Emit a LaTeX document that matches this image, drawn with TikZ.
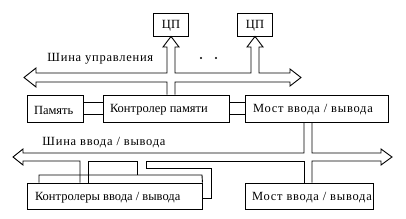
\documentclass[tikz,border=0pt]{standalone}
\usepackage{fontspec}
\setmainfont{Liberation Serif}
\newfontfamily\widefont[LetterSpace=6]{Liberation Serif}
\usetikzlibrary{calc}
\begin{document}
\begin{tikzpicture}[x=1pt,y=-1pt,line width=0.9pt,
  box/.style={draw,inner sep=0pt},
  lbl/.style={inner sep=0pt,anchor=west,font=\fontsize{12.5}{14}\selectfont},
  wlbl/.style={inner sep=0pt,anchor=west,font=\widefont\fontsize{12.5}{14}\selectfont},
  bus/.style={draw,line join=miter}]
\useasboundingbox (0,0) rectangle (406,219);
% boxes
\node[box,minimum width=35pt,minimum height=23pt] (cpu1) at (171,24.5) {};
\node[box,minimum width=35pt,minimum height=23pt] (cpu2) at (255,24.5) {};
\node[lbl,anchor=center] at ($(cpu1.center)+(0,1)$) {ЦП};
\node[lbl,anchor=center] at ($(cpu2.center)+(0,1)$) {ЦП};
\node[box,minimum width=56pt,minimum height=27pt] (mem) at (55,108.5) {};
\node[box,minimum width=126pt,minimum height=27pt] (mctrl) at (166,108.5) {};
\node[box,minimum width=143pt,minimum height=27pt] (br1) at (316.5,108.5) {};
\node[box,minimum width=175pt,minimum height=26pt] (ioc) at (114.5,196) {};
\node[box,minimum width=128pt,minimum height=26pt] (br2) at (309,196) {};
\node[lbl] (memt) at ($(mem.west)+(7,1.5)$) {Память};
\node[lbl] (mctrlt) at ($(mctrl.west)+(7,1.5)$) {Контролер памяти};
\node[wlbl] (br1t) at ($(br1.west)+(8,1.5)$) {Мост ввода / вывода};
\node[lbl] (ioct) at ($(ioc.west)+(8,1.5)$) {Контролеры ввода / вывода};
\node[wlbl] (br2t) at ($(br2.west)+(7,1.5)$) {Мост ввода / вывода};
% bus labels
\node[wlbl] (cbus) at (47,59) {Шина управления};
\node[wlbl] (iobus) at (42,143) {Шина ввода / вывода};
\fill (201,58) circle (1.1pt) (216,58) circle (1.1pt);
% connectors memory - controller - bridge
\draw ($(mem.east)+(0,-6)$) -- ($(mctrl.west)+(0,-6)$);
\draw ($(mem.east)+(0,6)$) -- ($(mctrl.west)+(0,6)$);
\draw ($(mctrl.east)+(0,-6)$) -- ($(br1.west)+(0,-6)$);
\draw ($(mctrl.east)+(0,6)$) -- ($(br1.west)+(0,6)$);
% control bus
\draw[bus] (167,0 |- mctrl.north) -- (167,82) -- (36,82) -- (36,87) -- (24,77.5) -- (36,68) -- (36,73)
  -- (167,73) -- (167,47) -- (163,47) -- (cpu1.south) -- (179,47) -- (175,47) -- (175,73)
  -- (251,73) -- (251,47) -- (247,47) -- (cpu2.south) -- (263,47) -- (259,47) -- (259,73)
  -- (290,73) -- (290,69) -- (301,77.5) -- (290,86) -- (290,82) -- (175,82) -- (175,0 |- mctrl.north);
% I/O bus
\draw[bus] (304,0 |- br1.south) -- (304,153) -- (23,153) -- (23,149) -- (13,157) -- (23,165) -- (23,161)
  -- (80,161) -- (80,0 |- ioc.north);
\draw[bus] (88,0 |- ioc.north) -- (88,161) -- (137,161) -- (137,175);
\draw[bus] (146,168) -- (146,161) -- (304,161) -- (304,0 |- br2.north);
\draw[bus] (312,0 |- br2.north) -- (312,161) -- (381,161) -- (381,165) -- (392,157) -- (381,149) -- (381,153)
  -- (312,153) -- (312,0 |- br1.south);
\draw[bus] (39,0 |- ioc.north) -- (39,175) -- (202,175) -- (ioc.north east);
\draw[bus] (146,168) -- (211,168) -- (211,198) -- (ioc.east |- 0,198);
\end{tikzpicture}
\end{document}
